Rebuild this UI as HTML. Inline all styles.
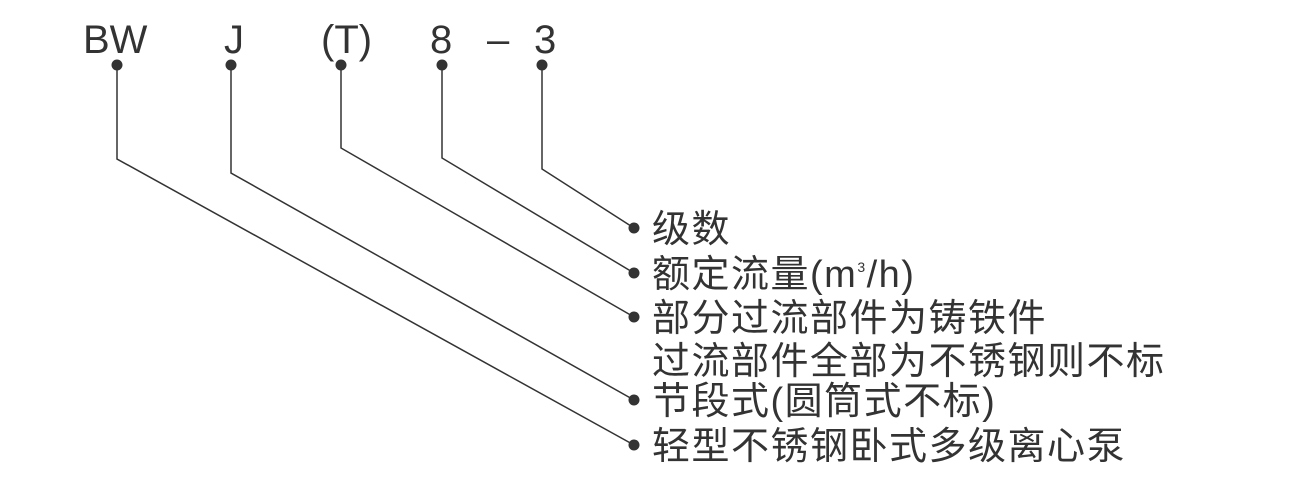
<!DOCTYPE html>
<html><head><meta charset="utf-8"><style>
html,body{margin:0;padding:0;background:#fff;}
svg{display:block;}
text{fill:#333;}
.t{font-family:"Liberation Sans",sans-serif;font-size:40px;}
.c{font-family:"Liberation Sans","Noto Sans CJK SC",sans-serif;font-size:38px;letter-spacing:1.5px;}
</style></head><body>
<svg width="1308" height="503" viewBox="0 0 1308 503" xmlns="http://www.w3.org/2000/svg">
<g class="t">
<text x="83" y="53">BW</text>
<text x="224" y="53">J</text>
<text x="321" y="53">(T)</text>
<text x="430" y="53">8</text>
<text x="487" y="53">–</text>
<text x="534" y="53">3</text>
</g>
<g stroke="#333" stroke-width="1.5" fill="none">
<polyline points="117,65 117,159 634,445"/>
<polyline points="231,65 231,173 634,400"/>
<polyline points="341,65 341,148 634,317"/>
<polyline points="442,65 442,158 634,273"/>
<polyline points="542,65 542,169 634,228"/>
</g>
<g fill="#333">
<circle cx="117" cy="65" r="5.5"/><circle cx="231" cy="65" r="5.5"/><circle cx="341" cy="65" r="5.5"/><circle cx="442" cy="65" r="5.5"/><circle cx="542" cy="65" r="5.5"/>
<circle cx="634" cy="228" r="5.5"/><circle cx="634" cy="273" r="5.5"/><circle cx="634" cy="317" r="5.5"/><circle cx="634" cy="400" r="5.5"/><circle cx="634" cy="445" r="5.5"/>
</g>
<g class="c">
<text x="652" y="242">级数</text>
<text x="652" y="287">额定流量(m<tspan font-size="14" dy="-15">3</tspan><tspan dy="15">/h)</tspan></text>
<text x="652" y="331">部分过流部件为铸铁件</text>
<text x="652" y="374">过流部件全部为不锈钢则不标</text>
<text x="652" y="414">节段式(圆筒式不标)</text>
<text x="652" y="459">轻型不锈钢卧式多级离心泵</text>
</g>
</svg>
</body></html>
